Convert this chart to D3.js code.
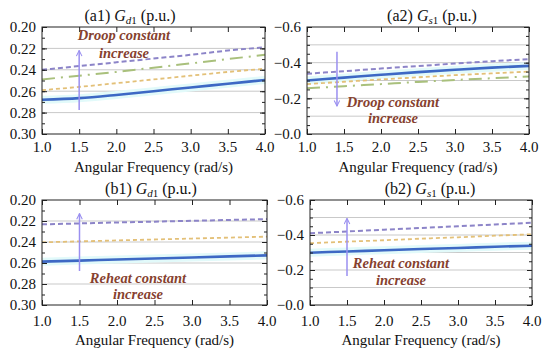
<!DOCTYPE html>
<html><head><meta charset="utf-8">
<script src="https://cdn.jsdelivr.net/npm/d3@7"></script>
<style>body{margin:0;background:#fff}svg{display:block}
svg text{font-family:"Liberation Serif","Times New Roman",Times,Tinos,"Noto Serif","DejaVu Serif",serif !important;}</style>
</head><body>
<script>
// ---- data ----
const freq = [1.0, 1.5, 2.0, 2.5, 3.0, 3.5, 4.0];
const xTicks = [1.0, 1.5, 2.0, 2.5, 3.0, 3.5, 4.0];

const a1Purple = [0.240, 0.2365, 0.233, 0.2295, 0.226, 0.222, 0.219];
const a1Green  = [0.249, 0.2455, 0.242, 0.238, 0.234, 0.230, 0.226];
const a1Yellow = [0.259, 0.256, 0.2525, 0.249, 0.2455, 0.242, 0.239];
const a1Blue   = [0.268, 0.2665, 0.2635, 0.260, 0.2565, 0.253, 0.2495];

const a2Purple = [-0.338, -0.352, -0.367, -0.381, -0.395, -0.408, -0.420];
const a2Blue   = [-0.300, -0.316, -0.332, -0.347, -0.360, -0.372, -0.382];
const a2Yellow = [-0.280, -0.293, -0.306, -0.318, -0.330, -0.340, -0.350];
const a2Green  = [-0.256, -0.268, -0.280, -0.292, -0.303, -0.313, -0.323];

const b1Purple = [0.2232, 0.2223, 0.2214, 0.2206, 0.2198, 0.2190, 0.2182];
const b1Yellow = [0.2403, 0.2394, 0.2385, 0.2376, 0.2367, 0.2358, 0.2349];
const b1Blue   = [0.2587, 0.2577, 0.2567, 0.2557, 0.2547, 0.2537, 0.2527];

const b2Purple = [-0.410, -0.420, -0.430, -0.440, -0.450, -0.460, -0.470];
const b2Yellow = [-0.353, -0.362, -0.370, -0.379, -0.387, -0.396, -0.404];
const b2Blue   = [-0.299, -0.306, -0.313, -0.320, -0.326, -0.333, -0.339];

const dTicks = [0.20, 0.22, 0.24, 0.26, 0.28, 0.30];
const dTickLabels = ["0.20", "0.22", "0.24", "0.26", "0.28", "0.30"];
const sTicks = [-0.6, -0.4, -0.2, 0.0];
const sTickLabels = ["\u22120.6", "\u22120.4", "\u22120.2", "\u22120.0"];

// ---- styles ----
const styles = {
  purple: {color: "#8c84c8", dash: "5,3", w: 2},
  green:  {color: "#a9c07c", dash: "13,6,2,6", w: 2},
  yellow: {color: "#e3c078", dash: "4,3", w: 1.8},
  blue:   {color: "#3d68c4", dash: null, w: 2.6}
};

const panels = [
  {id: "a1", sub: "d", x0: 42, x1: 265, top: 27, bottom: 134, yDomain: [0.20, 0.30],
   ticks: dTicks, tickLabels: dTickLabels, grid: [0.22, 0.24, 0.26, 0.28], minorStep: 0.01,
   series: [["yellow", a1Yellow], ["green", a1Green], ["purple", a1Purple], ["blue", a1Blue]],
   titleX: 130, titleY: 21, xlabY: 152, axTitleY: 172,
   arrow: {x: 1.5, from: 0.2776, to: 0.222},
   text: ["Droop constant", "increase"], tx: 124, ty: [40, 58]},
  {id: "a2", sub: "s", x0: 307, x1: 529, top: 27, bottom: 134, yDomain: [-0.6, 0.0],
   ticks: sTicks, tickLabels: sTickLabels, grid: [-0.5, -0.4, -0.3, -0.2, -0.1], minorStep: 0.05,
   series: [["green", a2Green], ["yellow", a2Yellow], ["purple", a2Purple], ["blue", a2Blue]],
   titleX: 432, titleY: 21, xlabY: 152, axTitleY: 172,
   arrow: {x: 1.405, from: -0.461, to: -0.157},
   text: ["Droop constant", "increase"], tx: 393, ty: [107, 123]},
  {id: "b1", sub: "d", x0: 42, x1: 267, top: 200, bottom: 305, yDomain: [0.20, 0.30],
   ticks: dTicks, tickLabels: dTickLabels, grid: [0.22, 0.24, 0.26, 0.28], minorStep: 0.01,
   series: [["purple", b1Purple], ["yellow", b1Yellow], ["blue", b1Blue]],
   titleX: 151, titleY: 194, xlabY: 326, axTitleY: 345,
   arrow: {x: 1.5, from: 0.2676, to: 0.213},
   text: ["Reheat constant", "increase"], tx: 138, ty: [283, 299]},
  {id: "b2", sub: "s", x0: 310, x1: 532, top: 200, bottom: 305, yDomain: [-0.6, 0.0],
   ticks: sTicks, tickLabels: sTickLabels, grid: [-0.5, -0.4, -0.3, -0.2, -0.1], minorStep: 0.05,
   series: [["purple", b2Purple], ["yellow", b2Yellow], ["blue", b2Blue]],
   titleX: 430, titleY: 194, xlabY: 326, axTitleY: 345,
   arrow: {x: 1.5, from: -0.166, to: -0.495},
   text: ["Reheat constant", "increase"], tx: 401, ty: [268, 285]}
];

const W = 550, H = 353;
const svg = d3.select("body").append("svg").attr("width", W).attr("height", H);

svg.append("defs").append("marker")
  .attr("id", "arrowhead").attr("viewBox", "0 0 10 10").attr("refX", 9).attr("refY", 5)
  .attr("markerWidth", 7).attr("markerHeight", 7).attr("orient", "auto-start-reverse")
  .attr("markerUnits", "userSpaceOnUse")
  .append("path").attr("d", "M1,1 L9,5 L1,9").attr("fill", "none")
  .attr("stroke", "#9a8ff0").attr("stroke-width", 1.5);

panels.forEach(p => {
  const g = svg.append("g");
  const x = d3.scaleLinear().domain([1, 4]).range([p.x0, p.x1]);
  const y = d3.scaleLinear().domain(p.yDomain).range([p.top, p.bottom]);

  g.selectAll(".grid").data(p.grid).enter().append("line")
    .attr("x1", p.x0).attr("x2", p.x1)
    .attr("y1", d => y(d)).attr("y2", d => y(d))
    .attr("stroke", "#c9c9c9").attr("stroke-width", 1);

  const line = d3.line().x((d, i) => x(freq[i])).y(d => y(d)).curve(d3.curveMonotoneX);
  const blue = p.series.find(s => s[0] === "blue")[1];
  g.append("path").attr("d", line(blue)).attr("fill", "none")
    .attr("stroke", "#e2fafa").attr("stroke-width", 8);

  p.series.forEach(([k, vals]) => {
    const st = styles[k];
    g.append("path").attr("d", line(vals)).attr("fill", "none")
      .attr("stroke", st.color).attr("stroke-width", st.w)
      .attr("stroke-dasharray", st.dash);
  });

  g.append("rect").attr("x", p.x0).attr("y", p.top)
    .attr("width", p.x1 - p.x0).attr("height", p.bottom - p.top)
    .attr("fill", "none").attr("stroke", "#222").attr("stroke-width", 1);

  const xb = d3.axisBottom(x).tickValues(xTicks).tickSize(-5).tickFormat("");
  const xt = d3.axisTop(x).tickValues(xTicks).tickSize(-5).tickFormat("");
  g.append("g").attr("transform", `translate(0,${p.bottom})`).call(xb);
  g.append("g").attr("transform", `translate(0,${p.top})`).call(xt);
  const minor = d3.range(p.yDomain[0], p.yDomain[1] + 1e-9, p.minorStep);
  const yl = d3.axisLeft(y).tickValues(minor).tickSize(-3).tickFormat("");
  const yr = d3.axisRight(y).tickValues(minor).tickSize(-3).tickFormat("");
  const ylM = d3.axisLeft(y).tickValues(p.ticks).tickSize(-5).tickPadding(6)
    .tickFormat((d, i) => p.tickLabels[i]);
  const yrM = d3.axisRight(y).tickValues(p.ticks).tickSize(-5).tickFormat("");
  g.append("g").attr("transform", `translate(${p.x0},0)`).call(yl);
  g.append("g").attr("transform", `translate(${p.x1},0)`).call(yr);
  const yAx = g.append("g").attr("transform", `translate(${p.x0},0)`).call(ylM);
  g.append("g").attr("transform", `translate(${p.x1},0)`).call(yrM);
  g.selectAll(".domain").remove();
  g.selectAll(".tick line").attr("stroke", "#222");
  yAx.selectAll("text").attr("font-size", 15).attr("fill", "#111");

  g.selectAll(".xl").data(xTicks).enter().append("text")
    .attr("x", d => x(d)).attr("y", p.xlabY).attr("text-anchor", "middle")
    .attr("font-size", 15).attr("fill", "#111").text(d => d.toFixed(1));

  g.append("text").attr("x", (p.x0 + p.x1) / 2).attr("y", p.axTitleY)
    .attr("text-anchor", "middle").attr("font-size", 15).attr("fill", "#111")
    .text("Angular Frequency (rad/s)");

  const t = g.append("text").attr("x", p.titleX).attr("y", p.titleY)
    .attr("text-anchor", "middle").attr("font-size", 16).attr("fill", "#111");
  t.append("tspan").text(`(${p.id}) `);
  t.append("tspan").attr("font-style", "italic").text("G");
  t.append("tspan").attr("font-style", "italic").attr("font-size", 11).attr("dy", 3).text(p.sub);
  t.append("tspan").attr("font-size", 11).text("1");
  t.append("tspan").attr("dy", -3).text(" (p.u.)");

  g.append("line").attr("x1", x(p.arrow.x)).attr("x2", x(p.arrow.x))
    .attr("y1", y(p.arrow.from)).attr("y2", y(p.arrow.to))
    .attr("stroke", "#9a8ff0").attr("stroke-width", 1.5)
    .attr("marker-end", "url(#arrowhead)");

  p.text.forEach((s, i) => {
    g.append("text").attr("x", p.tx).attr("y", p.ty[i]).attr("text-anchor", "middle")
      .attr("font-size", 14.5).attr("font-weight", "bold").attr("font-style", "italic")
      .attr("fill", "#86412f").text(s);
  });
});
</script>
</body></html>
